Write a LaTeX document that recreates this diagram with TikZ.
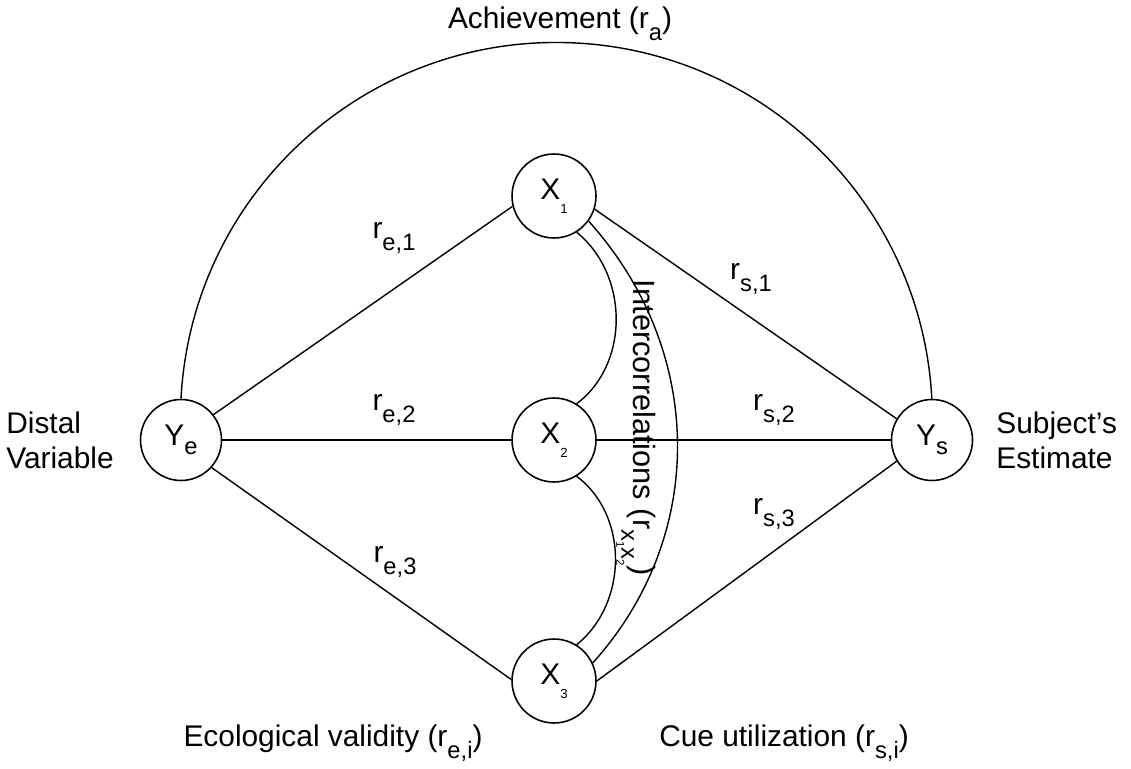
\documentclass[tikz,border=0pt]{standalone}
\usepackage{fontspec}
\setmainfont{Liberation Sans}
\newcommand{\lbl}{\fontsize{17}{20}\selectfont}
\newcommand{\rsb}[1]{r\raisebox{-0.75ex}{\fontsize{13.5}{13.5}\selectfont #1}}
\newcommand{\nsb}[1]{\raisebox{-0.9ex}{\fontsize{7.5}{7.5}\selectfont #1}}
\begin{document}
\begin{tikzpicture}[x=0.02cm,y=0.02cm]
\tikzset{
  var/.style={draw, circle, line width=0.9pt, minimum size=1.68cm, inner sep=0pt, font=\lbl},
  yvar/.style={var, minimum size=1.62cm},
  link/.style={line width=0.8pt},
  lab/.style={font=\lbl, inner sep=0pt},
}
\useasboundingbox (0,0) rectangle (1131,768);
% nodes
\node[yvar] (Ye) at (181,328) {Y\raisebox{-0.6ex}{\fontsize{13.5}{13.5}\selectfont e}};
\node[yvar] (Ys) at (932,328) {Y\raisebox{-0.6ex}{\fontsize{13.5}{13.5}\selectfont s}};
\node[var] (X1) at (554,572) {X\nsb{1}};
\node[var] (X2) at (554,328) {X\nsb{2}};
\node[var] (X3) at (554,87) {X\nsb{3}};
% connectors
\draw[link] (Ye.north) arc[start angle=177, end angle=3, radius=7.52cm];
\draw[link] (Ye.38) -- (X1.194);
\draw[link] (Ye) -- (X2);
\draw[link] (Ye.-42) -- (X3.178);
\draw[link] (X1.-18) -- (Ys.149);
\draw[link] (X2) -- (Ys);
\draw[link] (X3.0) -- (Ys.211);
\draw[link] (X1.-58) to[out=-39,in=37] (X2.58);
\draw[link] (X2.-58) to[out=-37,in=39] (X3.58);
\draw[link] (X1.-36) to[out=-48,in=48] (X3.25);
% labels
\node[lab] (ach) at (560,744) {Achievement (\rsb{a})};
\node[lab, anchor=west, align=left] (distal) at (6,328) {Distal\\Variable};
\node[lab, anchor=west, align=left] (subj) at (996,328) {Subject’s\\Estimate};
\node[lab] (eco) at (333,25) {Ecological validity (\rsb{e,i})};
\node[lab] (cue) at (784,25) {Cue utilization (\rsb{s,i})};
\node[lab] (re1) at (394,530) {\rsb{e,1}};
\node[lab] (re2) at (394,358) {\rsb{e,2}};
\node[lab] (re3) at (395,206) {\rsb{e,3}};
\node[lab] (rs1) at (751,489) {\rsb{s,1}};
\node[lab] (rs2) at (774,358) {\rsb{s,2}};
\node[lab] (rs3) at (774,254) {\rsb{s,3}};
\node[lab, rotate=-90, font=\fontsize{17.5}{20}\selectfont] (inter) at (636,340) {Intercorrelations (r\raisebox{-0.75ex}{\fontsize{13.5}{13.5}\selectfont x\raisebox{-0.4ex}{\fontsize{6.5}{6.5}\selectfont 1}x\raisebox{-0.4ex}{\fontsize{6.5}{6.5}\selectfont 2}})};
\end{tikzpicture}
\end{document}
